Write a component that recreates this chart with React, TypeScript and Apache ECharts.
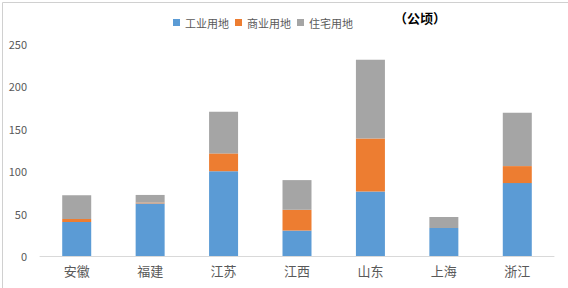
import React, { useEffect, useRef } from "react";
import * as echarts from "echarts";

const categories = ["安徽", "福建", "江苏", "江西", "山东", "上海", "浙江"];
const industrial = [40, 62, 100, 30, 76, 33, 86];
const commercial = [3.5, 1, 21, 24.5, 62.5, 0, 20];
const residential = [28, 9, 49, 35, 93, 13, 63];
const seriesNames = ["工业用地", "商业用地", "住宅用地"];
const unitLabel = "（公顷）";

const FONT = "'Noto Sans CJK SC', 'Noto Sans', sans-serif";

export default function App() {
  const ref = useRef<HTMLDivElement>(null);
  useEffect(() => {
    document.body.style.margin = "0";
    const chart = echarts.init(ref.current!, null, { renderer: "svg" });
    const mk = (name: string, data: number[], color: string) => ({
      name,
      type: "bar",
      stack: "total",
      data,
      barWidth: 29,
      itemStyle: { color },
    });
    chart.setOption({
      animation: false,
      backgroundColor: "#fff",
      textStyle: { fontFamily: FONT },
      legend: {
        top: 12,
        left: 168,
        itemWidth: 7,
        itemHeight: 7,
        itemGap: 6,
        icon: "rect",
        textStyle: { color: "#595959", fontSize: 11, fontFamily: FONT },
        data: seriesNames,
      },
      grid: { left: 40, right: 14, top: 44, bottom: 32 },
      xAxis: {
        type: "category",
        data: categories,
        axisLine: { lineStyle: { color: "#D9D9D9" } },
        axisTick: { show: false },
        axisLabel: { color: "#595959", fontSize: 13, margin: 8, fontFamily: FONT },
      },
      yAxis: {
        type: "value",
        min: 0,
        max: 250,
        interval: 50,
        splitLine: { show: false },
        axisLine: { show: false },
        axisTick: { show: false },
        axisLabel: { color: "#595959", fontSize: 11, margin: 13, fontFamily: FONT },
      },
      graphic: [
        {
          type: "rect",
          left: 0,
          top: 0,
          shape: { width: 567, height: 287 },
          style: { fill: "none", stroke: "#D0D0D0", lineWidth: 1 },
          silent: true,
        },
        {
          type: "text",
          left: 394,
          top: 11,
          style: {
            text: unitLabel,
            fill: "#000",
            font: `bold 13px ${FONT}`,
          },
        },
      ],
      series: [
        mk(seriesNames[0], industrial, "#5B9BD5"),
        mk(seriesNames[1], commercial, "#ED7D31"),
        mk(seriesNames[2], residential, "#A5A5A5"),
      ],
    });
    return () => chart.dispose();
  }, []);
  return <div ref={ref} style={{ width: 568, height: 288 }} />;
}
